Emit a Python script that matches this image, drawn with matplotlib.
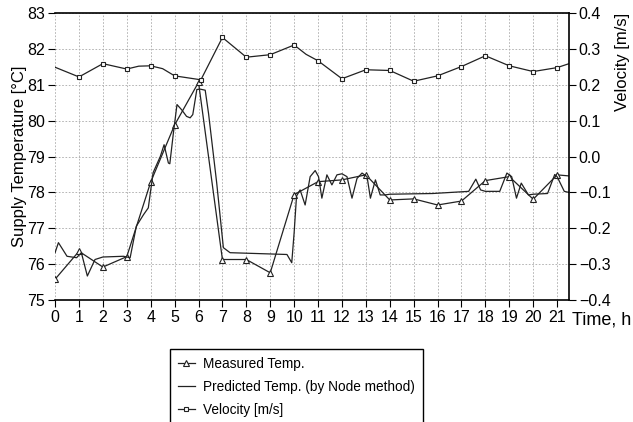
import matplotlib.pyplot as plt

plt.rcParams['font.family'] = ['Liberation Sans', 'DejaVu Sans']

# measured supply temperature (hourly)
t_meas = [0, 1, 2, 3, 4, 5, 6, 7, 8, 9, 10, 11, 12, 13, 14, 15, 16, 17, 18, 19, 20, 21, 21.5]
T_meas = [75.58, 76.36, 75.92, 76.21, 78.29, 79.88, 81.07, 76.13, 76.13, 75.76, 77.94,
          78.3, 78.35, 78.49, 77.79, 77.82, 77.65, 77.76, 78.33, 78.44, 77.81, 78.49, 78.46]

# predicted temperature (node method)
t_pred = [0, 0.14, 0.5, 0.9, 1.1, 1.35, 1.67, 2.0, 2.86, 3.14, 3.4, 3.7, 3.9, 4.1, 4.4,
          4.56, 4.74, 4.8, 4.95, 5.1, 5.3, 5.5, 5.65, 5.76, 5.93, 6.07, 6.28, 6.42, 6.76,
          7.04, 7.32, 9.7, 9.9, 10.0, 10.1, 10.25, 10.46, 10.67, 10.88, 11.02, 11.16, 11.37,
          11.58, 11.79, 12.0, 12.21, 12.42, 12.63, 12.84, 13.05, 13.19, 13.4, 13.6, 13.8,
          14.0, 15.8, 17.3, 17.6, 17.8, 18.0, 18.6, 18.9, 19.1, 19.3, 19.5, 19.8, 20.0,
          20.6, 20.9, 21.0, 21.3, 21.5]
T_pred = [76.32, 76.6, 76.22, 76.18, 76.32, 75.67, 76.13, 76.2, 76.22, 76.18, 77.06, 77.38,
          77.57, 78.55, 79.0, 79.33, 78.82, 78.8, 79.66, 80.45, 80.3, 80.12, 80.08, 80.17,
          80.87, 80.88, 80.85, 80.2, 78.27, 76.46, 76.32, 76.27, 76.04, 76.88, 77.9, 78.07,
          77.65, 78.44, 78.61, 78.44, 77.84, 78.49, 78.21, 78.49, 78.52, 78.44, 77.84, 78.39,
          78.54, 78.44, 77.84, 78.35, 77.93, 77.93, 77.95, 77.97, 78.03, 78.37, 78.07, 78.03,
          78.03, 78.54, 78.44, 77.84, 78.26, 77.93, 77.95, 77.97, 78.5, 78.44, 78.03, 78.0]

# velocity
t_vel = [0, 1, 2, 3, 3.5, 4, 4.5, 5, 6.1, 7, 8, 9, 10, 10.5, 11, 12, 13, 14, 15, 16, 17,
         18, 19, 20, 21, 21.5]
v_vel = [0.249, 0.222, 0.259, 0.244, 0.252, 0.253, 0.245, 0.225, 0.214, 0.332, 0.277, 0.284,
         0.311, 0.285, 0.267, 0.217, 0.242, 0.240, 0.210, 0.225, 0.251, 0.281, 0.253, 0.237,
         0.248, 0.259]
vel_marks = [1, 2, 3, 5, 7, 8, 9, 10, 11, 12, 14, 15, 16, 17, 18, 19, 20, 21, 22, 23, 24]

fig = plt.figure(figsize=(6.33, 4.22), dpi=100)
ax = fig.add_axes([0.087, 0.289, 0.812, 0.68])

l1, = ax.plot(t_meas, T_meas, color='#222222', lw=0.9, marker='^', ms=4,
              mfc='white', mec='#222222', mew=0.8, markevery=list(range(22)))
l2, = ax.plot(t_pred, T_pred, color='#222222', lw=0.9)

ax.set_xlim(0, 21.5)
ax.set_ylim(75, 83)
ax.set_xticks(range(22))
ax.set_yticks(range(75, 84))
ax.grid(True, color='#aaaaaa', ls=(0, (2, 2)), lw=0.6)
ax.set_ylabel('Supply Temperature [°C]', fontsize=12)
ax.yaxis.set_label_coords(-0.055, 0.5)
ax.tick_params(labelsize=11.5, length=5, pad=2)
ax.spines['left'].set_visible(False)
ax.spines['right'].set_visible(False)
ax.spines['top'].set_linewidth(1.2)
ax.spines['bottom'].set_linewidth(1.2)
ax.text(1.005, -0.04, 'Time, h', transform=ax.transAxes, fontsize=13, va='top', ha='left')

ax2 = ax.twinx()
l3, = ax2.plot(t_vel, v_vel, color='#222222', lw=0.9, marker='s', ms=3.5,
               mfc='white', mec='#222222', mew=0.8, markevery=vel_marks)
ax2.set_ylim(-0.4, 0.4)
ax2.set_yticks([-0.4, -0.3, -0.2, -0.1, 0.0, 0.1, 0.2, 0.3, 0.4])
ax2.set_yticklabels(['\u22120.4', '\u22120.3', '\u22120.2', '\u22120.1', '0.0', '0.1', '0.2', '0.3', '0.4'])
ax2.tick_params(labelsize=11.5, length=5, pad=2)
ax2.set_ylabel('Velocity [m/s]', fontsize=12, labelpad=2)
ax2.yaxis.set_label_coords(1.09, 0.83)
for s in ['left', 'top', 'bottom']:
    ax2.spines[s].set_visible(False)
ax2.spines['right'].set_linewidth(1.2)

leg = fig.legend([l1, l2, l3],
                 ['Measured Temp.', 'Predicted Temp. (by Node method)', 'Velocity [m/s]'],
                 loc='upper left', bbox_to_anchor=(0.258, 0.19), fontsize=9.8,
                 handlelength=1.2, handletextpad=0.6, labelspacing=0.66,
                 fancybox=False, edgecolor='black', framealpha=1, borderpad=0.6)
leg.get_frame().set_linewidth(1.0)

fig.savefig('out.png', dpi=100)
